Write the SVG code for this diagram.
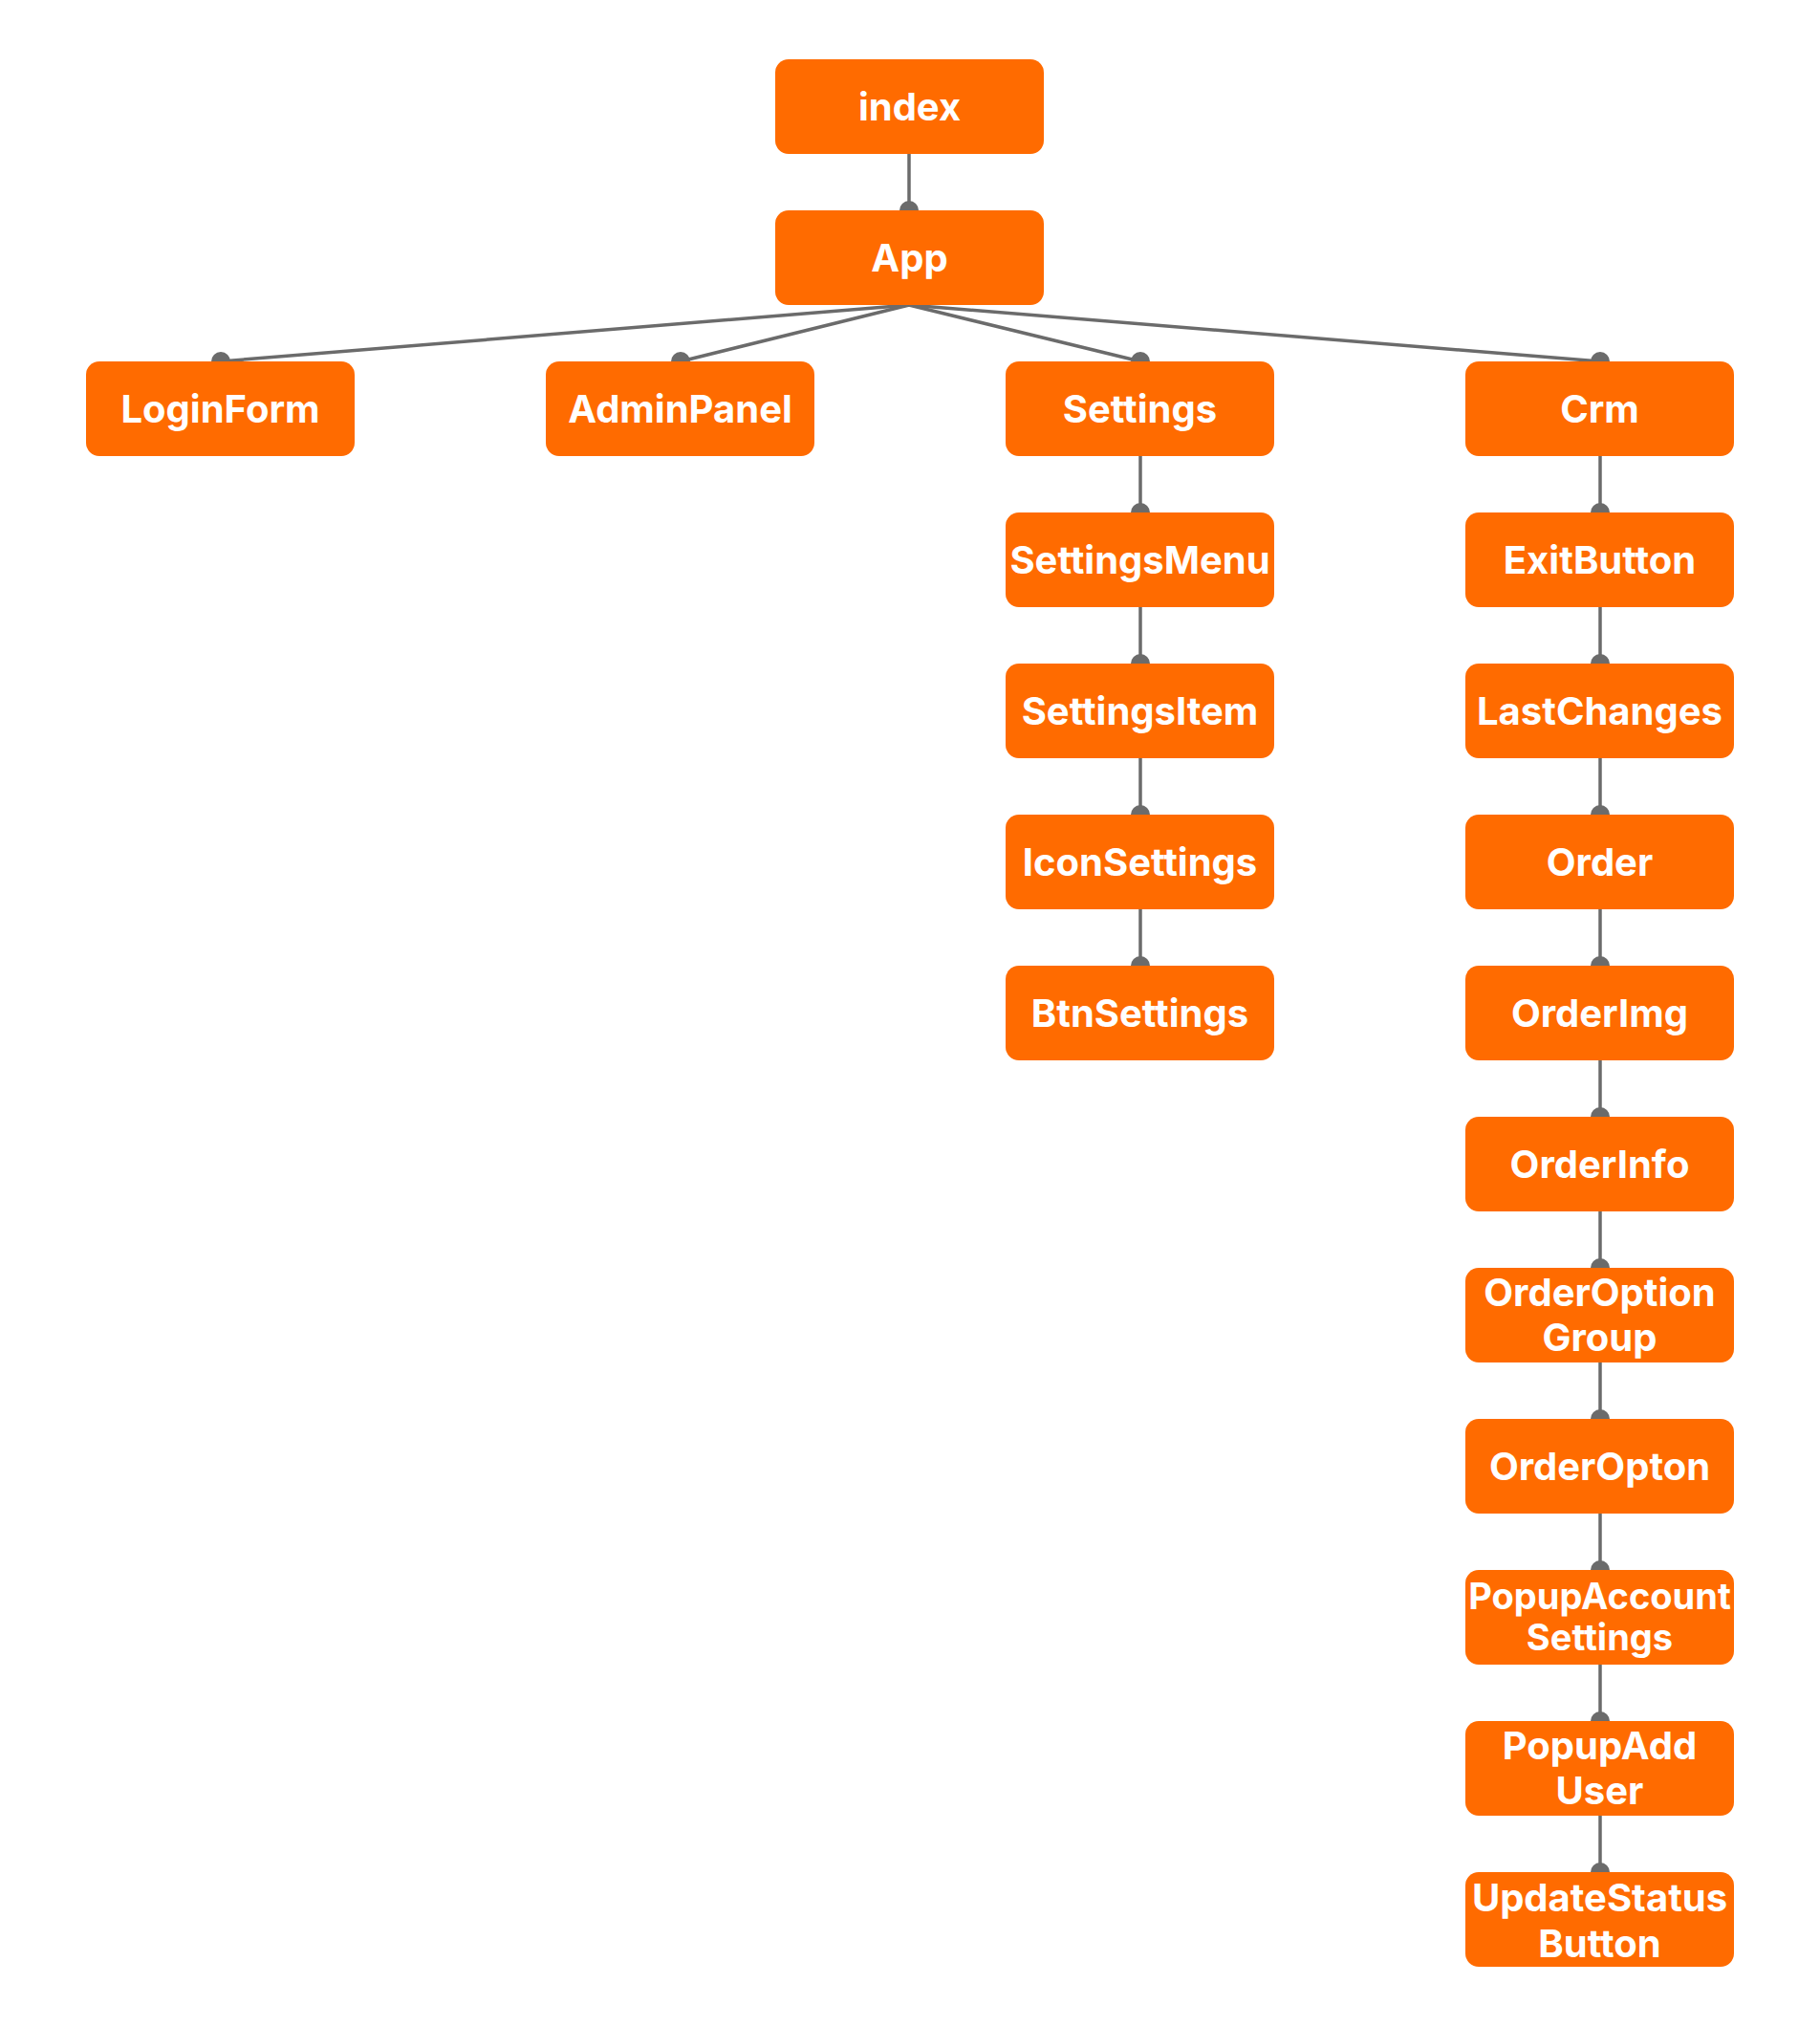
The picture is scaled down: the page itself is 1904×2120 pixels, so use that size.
<svg xmlns="http://www.w3.org/2000/svg" width="1904" height="2120" viewBox="0 0 1904 2120">
  <style>
    .node rect { fill: #ff6b00; }
    .node text { fill: #ffffff; font-family: Inter, "Liberation Sans", sans-serif; font-weight: 700; font-size: 40px; text-anchor: middle; }
    .node text.small { font-size: 38px; }
    .edges line { stroke: #6b6b6b; stroke-width: 3.5; }
    .edges circle { fill: #6b6b6b; }
  </style>
  <rect width="1904" height="2120" fill="#ffffff"/>

  <!-- connectors: line from parent bottom-centre to child top-centre, dot at child end -->
  <g class="edges" id="edges">
    <line x1="951" y1="161" x2="951" y2="220"/><circle cx="951" cy="220" r="10"/>
    <line x1="951" y1="319" x2="231" y2="378"/><circle cx="231" cy="378" r="10"/>
    <line x1="951" y1="319" x2="712" y2="378"/><circle cx="712" cy="378" r="10"/>
    <line x1="951" y1="319" x2="1193" y2="378"/><circle cx="1193" cy="378" r="10"/>
    <line x1="951" y1="319" x2="1674" y2="378"/><circle cx="1674" cy="378" r="10"/>

    <line x1="1193" y1="477" x2="1193" y2="536"/><circle cx="1193" cy="536" r="10"/>
    <line x1="1193" y1="635" x2="1193" y2="694"/><circle cx="1193" cy="694" r="10"/>
    <line x1="1193" y1="793" x2="1193" y2="852"/><circle cx="1193" cy="852" r="10"/>
    <line x1="1193" y1="951" x2="1193" y2="1010"/><circle cx="1193" cy="1010" r="10"/>

    <line x1="1674" y1="477" x2="1674" y2="536"/><circle cx="1674" cy="536" r="10"/>
    <line x1="1674" y1="635" x2="1674" y2="694"/><circle cx="1674" cy="694" r="10"/>
    <line x1="1674" y1="793" x2="1674" y2="852"/><circle cx="1674" cy="852" r="10"/>
    <line x1="1674" y1="951" x2="1674" y2="1010"/><circle cx="1674" cy="1010" r="10"/>
    <line x1="1674" y1="1109" x2="1674" y2="1168"/><circle cx="1674" cy="1168" r="10"/>
    <line x1="1674" y1="1267" x2="1674" y2="1326"/><circle cx="1674" cy="1326" r="10"/>
    <line x1="1674" y1="1425" x2="1674" y2="1484"/><circle cx="1674" cy="1484" r="10"/>
    <line x1="1674" y1="1583" x2="1674" y2="1642"/><circle cx="1674" cy="1642" r="10"/>
    <line x1="1674" y1="1741" x2="1674" y2="1800"/><circle cx="1674" cy="1800" r="10"/>
    <line x1="1674" y1="1899" x2="1674" y2="1958"/><circle cx="1674" cy="1958" r="10"/>
  </g>

  <!-- nodes -->
  <g class="node" id="index"><rect x="811" y="62" width="281" height="99" rx="14"/><text x="951.5" y="126">index</text></g>
  <g class="node" id="App"><rect x="811" y="220" width="281" height="99" rx="14"/><text x="951.5" y="284">App</text></g>

  <g class="node" id="LoginForm"><rect x="90" y="378" width="281" height="99" rx="14"/><text x="230.5" y="442">LoginForm</text></g>
  <g class="node" id="AdminPanel"><rect x="571" y="378" width="281" height="99" rx="14"/><text x="711.5" y="442">AdminPanel</text></g>
  <g class="node" id="Settings"><rect x="1052" y="378" width="281" height="99" rx="14"/><text x="1192.5" y="442">Settings</text></g>
  <g class="node" id="Crm"><rect x="1533" y="378" width="281" height="99" rx="14"/><text x="1673.5" y="442">Crm</text></g>

  <g class="node" id="SettingsMenu"><rect x="1052" y="536" width="281" height="99" rx="14"/><text x="1192.5" y="600">SettingsMenu</text></g>
  <g class="node" id="SettingsItem"><rect x="1052" y="694" width="281" height="99" rx="14"/><text x="1192.5" y="758">SettingsItem</text></g>
  <g class="node" id="IconSettings"><rect x="1052" y="852" width="281" height="99" rx="14"/><text x="1192.5" y="916">IconSettings</text></g>
  <g class="node" id="BtnSettings"><rect x="1052" y="1010" width="281" height="99" rx="14"/><text x="1192.5" y="1074">BtnSettings</text></g>

  <g class="node" id="ExitButton"><rect x="1533" y="536" width="281" height="99" rx="14"/><text x="1673.5" y="600">ExitButton</text></g>
  <g class="node" id="LastChanges"><rect x="1533" y="694" width="281" height="99" rx="14"/><text x="1673.5" y="758">LastChanges</text></g>
  <g class="node" id="Order"><rect x="1533" y="852" width="281" height="99" rx="14"/><text x="1673.5" y="916">Order</text></g>
  <g class="node" id="OrderImg"><rect x="1533" y="1010" width="281" height="99" rx="14"/><text x="1673.5" y="1074">OrderImg</text></g>
  <g class="node" id="OrderInfo"><rect x="1533" y="1168" width="281" height="99" rx="14"/><text x="1673.5" y="1232">OrderInfo</text></g>
  <g class="node" id="OrderOptionGroup"><rect x="1533" y="1326" width="281" height="99" rx="14"/><text x="1673.5" y="1366">OrderOption</text><text x="1673.5" y="1413">Group</text></g>
  <g class="node" id="OrderOpton"><rect x="1533" y="1484" width="281" height="99" rx="14"/><text x="1673.5" y="1548">OrderOpton</text></g>
  <g class="node" id="PopupAccountSettings"><rect x="1533" y="1642" width="281" height="99" rx="14"/><text class="small" x="1673.5" y="1683">PopupAccount</text><text class="small" x="1673.5" y="1726">Settings</text></g>
  <g class="node" id="PopupAddUser"><rect x="1533" y="1800" width="281" height="99" rx="14"/><text x="1673.5" y="1840">PopupAdd</text><text x="1673.5" y="1887">User</text></g>
  <g class="node" id="UpdateStatusButton"><rect x="1533" y="1958" width="281" height="99" rx="14"/><text x="1673.5" y="1999">UpdateStatus</text><text x="1673.5" y="2047">Button</text></g>
</svg>
